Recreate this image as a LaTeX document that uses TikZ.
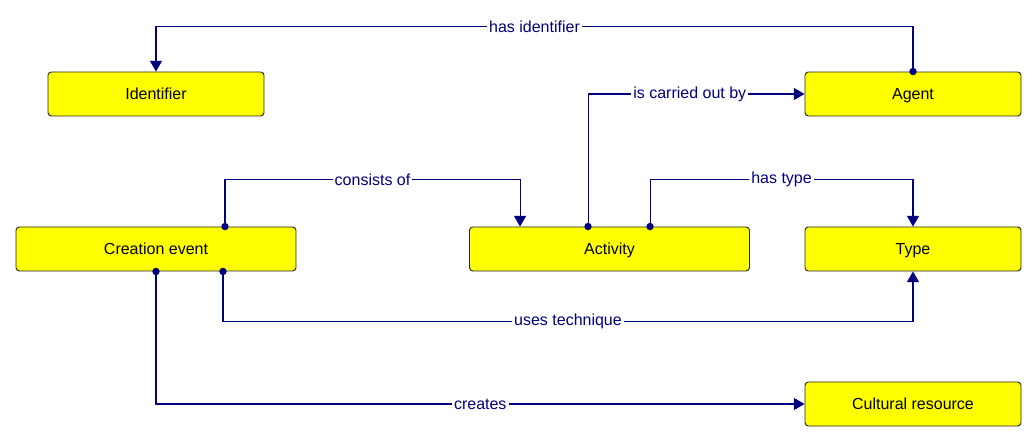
\documentclass[tikz,border=0pt]{standalone}
\usepackage{fontspec}
\setmainfont{Liberation Sans}
\usetikzlibrary{arrows.meta}
\definecolor{linkblue}{RGB}{0,0,128}
\definecolor{boxyellow}{RGB}{255,255,0}
\tikzset{
	entity/.style={draw=black!85, fill=boxyellow, rounded corners=2.5pt, line width=0.7pt,
		minimum width=162pt, minimum height=33pt, text height=8.6pt, text depth=0pt,
		font=\fontsize{12}{14}\selectfont},
	wide/.style={minimum width=210pt},
	link/.style={draw=linkblue, line width=0.8pt, shorten <=-2.75pt,
		{Circle[length=5.5pt]}-{Triangle[length=8pt, width=9pt]}},
	linklabel/.style={fill=white, text=linkblue, inner sep=1.5pt, font=\fontsize{12}{14}\selectfont}
}
\begin{document}
\begin{tikzpicture}[x=0.75pt, y=-0.75pt]
		\useasboundingbox (0,0) rectangle (1036,441);
		% classes
		\node[entity] (ident) at (156,94) {Identifier};
		\node[entity] (agent) at (913,94) {Agent};
		\node[entity, wide] (creation) at (156,249) {Creation event};
		\node[entity, wide] (activity) at (609.5,249) {Activity};
		\node[entity] (type) at (913,249) {Type};
		\node[entity] (resource) at (913,404) {Cultural resource};

		% properties
		\draw[link] (agent.north) -- ++(0,-45) -| (ident.north)
			node[linklabel, pos=0.25]{has identifier};
		\draw[link] ([xshift=-16.1pt]activity.north) |- (agent.west)
			node[linklabel, pos=0.735]{is carried out by};
		\draw[link] ([xshift=51.75pt]creation.north) -- ++(0,-47) -| ([xshift=-67.1pt]activity.north)
			node[linklabel, pos=0.25]{consists of};
		\draw[link] ([xshift=30.4pt]activity.north) -- ++(0,-47) -| (type.north)
			node[linklabel, pos=0.25]{has type};
		\draw[link] ([xshift=50.25pt]creation.south) -- ++(0,50) -| (type.south)
			node[linklabel, pos=0.25]{uses technique};
		\draw[link] (creation.south) |- (resource.west)
			node[linklabel, pos=0.75]{creates};
	\end{tikzpicture}
\end{document}
